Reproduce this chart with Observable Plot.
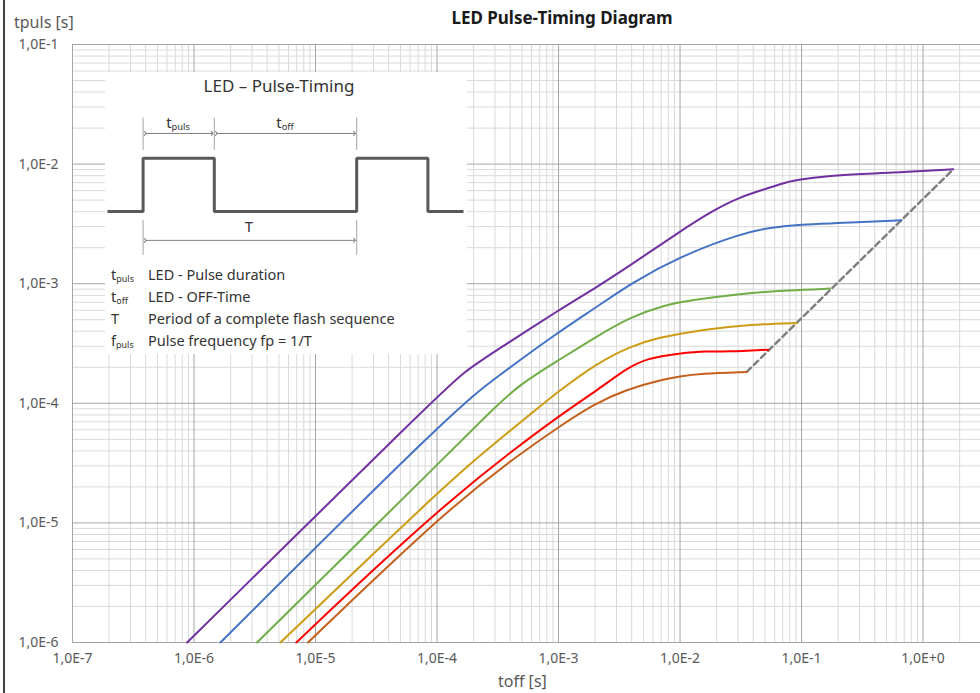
<!DOCTYPE html>
<html><head><meta charset="utf-8">
<script src="https://cdn.jsdelivr.net/npm/d3@7"></script>
<script src="https://cdn.jsdelivr.net/npm/@observablehq/plot@0.6"></script>
<style>
body{margin:0;background:#fff;font-family:"Noto Sans",sans-serif;}
#wrap{position:relative;width:980px;height:693px;overflow:hidden;background:#fff;}
.t{position:absolute;white-space:nowrap;color:#333;line-height:1.1;}
.c{transform:translate(-50%,-50%);}
.l{transform:translateY(-50%);}
sub{font-size:62%;vertical-align:-0.25em;line-height:0;}
</style></head><body><div id="wrap"></div>
<script>
// ---- axis ticks ----
const xTicks = [1e-7, 1e-6, 1e-5, 1e-4, 1e-3, 1e-2, 1e-1, 1e0];
const xTickLabels = ["1,0E-7", "1,0E-6", "1,0E-5", "1,0E-4", "1,0E-3", "1,0E-2", "1,0E-1", "1,0E+0"];
const yTicks = [1e-6, 1e-5, 1e-4, 1e-3, 1e-2, 1e-1];
const yTickLabels = ["1,0E-6", "1,0E-5", "1,0E-4", "1,0E-3", "1,0E-2", "1,0E-1"];

// ---- series (toff [s], tpuls [s]) ----
const seriesNames = ["s1", "s2", "s3", "s4", "s5", "s6"];
const seriesColors = ["#7030a0", "#4472c4", "#70ad47", "#cc9c14", "#ff0000", "#c5601c"];

const s1X = [8.77e-7, 9.31e-5, 1.64e-4, 3.11e-4, 1.0e-3, 2.07e-3, 3.88e-3, 1.0e-2, 1.87e-2, 3.11e-2, 5.16e-2, 7.53e-2, 9.7e-2, 0.207, 0.731, 1.77];
const s1Y = [1.0e-6, 1.06e-4, 1.82e-4, 2.78e-4, 6.0e-4, 9.38e-4, 1.42e-3, 2.74e-3, 4.10e-3, 5.30e-3, 6.23e-3, 7.08e-3, 7.45e-3, 8.15e-3, 8.57e-3, 9.04e-3];

const s2X = [1.65e-6, 1.41e-4, 3.11e-4, 1.0e-3, 2.07e-3, 3.88e-3, 1.0e-2, 3.11e-2, 5.85e-2, 9.7e-2, 0.207, 0.665];
const s2Y = [1.0e-6, 9.04e-5, 1.66e-4, 3.95e-4, 6.39e-4, 1.0e-3, 1.69e-3, 2.62e-3, 2.98e-3, 3.13e-3, 3.21e-3, 3.39e-3];

const s3X = [3.30e-6, 1.29e-4, 2.82e-4, 4.83e-4, 1.0e-3, 2.07e-3, 3.88e-3, 7.30e-3, 1.21e-2, 3.11e-2, 8.04e-2, 0.171];
const s3Y = [1.0e-6, 3.93e-5, 8.75e-5, 1.45e-4, 2.29e-4, 3.64e-4, 5.24e-4, 6.60e-4, 7.26e-4, 8.27e-4, 8.81e-4, 9.10e-4];

const s4X = [5.14e-6, 1.29e-4, 2.49e-4, 6.43e-4, 1.0e-3, 2.07e-3, 3.88e-3, 6.86e-3, 1.21e-2, 2.42e-2, 4.55e-2, 9.12e-2];
const s4Y = [1.0e-6, 2.28e-5, 3.98e-5, 8.75e-5, 1.26e-4, 2.16e-4, 3.0e-4, 3.57e-4, 3.95e-4, 4.37e-4, 4.58e-4, 4.70e-4];

const s5X = [6.95e-6, 3.41e-5, 1.29e-4, 4.0e-4, 1.03e-3, 2.20e-3, 3.65e-3, 5.32e-3, 1.0e-2, 1.66e-2, 2.42e-2, 5.32e-2];
const s5Y = [1.0e-6, 4.61e-6, 1.55e-5, 3.90e-5, 7.96e-5, 1.34e-4, 1.96e-4, 2.38e-4, 2.62e-4, 2.74e-4, 2.69e-4, 2.81e-4];

const s6X = [8.67e-6, 1.29e-4, 5.31e-4, 1.03e-3, 1.94e-3, 3.65e-3, 6.86e-3, 1.0e-2, 1.46e-2, 3.54e-2];
const s6Y = [1.0e-6, 1.38e-5, 4.06e-5, 6.44e-5, 9.82e-5, 1.31e-4, 1.56e-4, 1.68e-4, 1.77e-4, 1.83e-4];

// dashed line through the series end points
const dashX = [3.54e-2, 1.77];
const dashY = [1.83e-4, 9.04e-3];

// ---- inset (pulse diagram, time in units) ----
const pulseT = [-1, 0, 0, 2, 2, 6, 6, 8, 8, 9];
const pulseLevel = [0, 0, 1, 1, 0, 0, 1, 1, 0, 0];
const dimTopTicks = [0, 2, 6];
const dimBottomTicks = [0, 6];
const dimStart = [0, 2, 0];
const dimEnd = [2, 6, 6];
const dimRow = ["top", "top", "bottom"];

// ---- build ----
const allX = [s1X, s2X, s3X, s4X, s5X, s6X];
const allY = [s1Y, s2Y, s3Y, s4Y, s5Y, s6Y];
const lineData = seriesNames.flatMap((s, k) => allX[k].map((x, i) => ({x, y: allY[k][i], s})));
const dashData = dashX.map((x, i) => ({x, y: dashY[i]}));

const xMax = 2.97;
const xMinor = [], yMinor = [];
for (const d of xTicks) for (let m = 2; m <= 9; m++) if (d * m <= xMax) xMinor.push(d * m);
for (const d of yTicks.slice(0, -1)) for (let m = 2; m <= 9; m++) yMinor.push(d * m);

const fmtX = d => xTickLabels[Math.round(Math.log10(d)) + 7];
const fmtY = d => yTickLabels[Math.round(Math.log10(d)) + 6];

const main = Plot.plot({
  width: 980, height: 693,
  marginLeft: 72, marginRight: 0, marginTop: 44, marginBottom: 51,
  style: {fontFamily: "Noto Sans", fontSize: "14px", color: "#595959", background: "transparent"},
  x: {type: "log", domain: [1e-7, xMax], ticks: xTicks, tickFormat: fmtX, tickSize: 0, tickPadding: 11, label: null},
  y: {type: "log", domain: [1e-6, 1e-1], ticks: yTicks, tickFormat: fmtY, tickSize: 0, tickPadding: 14, label: null},
  color: {domain: seriesNames, range: seriesColors},
  marks: [
    Plot.ruleX(xMinor, {stroke: "#d9d9d9", strokeWidth: 1}),
    Plot.ruleY(yMinor, {stroke: "#d9d9d9", strokeWidth: 1}),
    Plot.ruleX(xTicks, {stroke: "#a6a6a6", strokeWidth: 1}),
    Plot.ruleY(yTicks, {stroke: "#a6a6a6", strokeWidth: 1}),
    Plot.line(dashData, {x: "x", y: "y", stroke: "#808080", strokeWidth: 2.5, strokeDasharray: "6,4"}),
    Plot.line(lineData, {x: "x", y: "y", z: "s", stroke: "s", strokeWidth: 2, curve: "basis"})
  ]
});

const inset = Plot.plot({
  width: 362, height: 282,
  marginLeft: 2, marginRight: 4, marginTop: 0, marginBottom: 0,
  style: {background: "#fff"},
  x: {domain: [-1, 9], axis: null},
  y: {domain: [-2.70, 2.62], axis: null},
  marks: [
    Plot.ruleX(dimTopTicks, {y1: 1.15, y2: 1.76, stroke: "#a6a6a6"}),
    Plot.ruleX(dimBottomTicks, {y1: -0.83, y2: -0.17, stroke: "#a6a6a6"}),
    Plot.link(dimStart.map((a, i) => ({a, b: dimEnd[i], y: dimRow[i] === "top" ? 1.47 : -0.547})),
      {x1: d => d.a + 0.06, x2: d => d.b - 0.06, y1: "y", y2: "y", stroke: "#808080", strokeWidth: 1, markerStart: "arrow", markerEnd: "arrow"}),
    Plot.line(pulseT.map((t, i) => ({t, v: pulseLevel[i]})), {x: "t", y: "v", stroke: "#595959", strokeWidth: 3, strokeLinejoin: "miter", strokeLinecap: "butt"})
  ]
});

const wrap = document.getElementById("wrap");
main.style.position = "absolute"; main.style.left = "0"; main.style.top = "0";
wrap.appendChild(main);
inset.style.position = "absolute"; inset.style.left = "105px"; inset.style.top = "72px";
wrap.appendChild(inset);

function addText(html, x, y, cls, css) {
  const d = document.createElement("div");
  d.className = "t " + cls;
  d.innerHTML = html;
  d.style.left = x + "px"; d.style.top = y + "px";
  Object.assign(d.style, css || {});
  wrap.appendChild(d);
}
// frame line
const fr = document.createElement("div");
Object.assign(fr.style, {position: "absolute", left: "3px", top: "0", width: "1.5px", height: "693px", background: "#404040"});
wrap.appendChild(fr);

addText("LED Pulse-Timing Diagram", 562, 18, "c", {fontWeight: "700", fontSize: "17px", color: "#1a1a1a"});
addText("tpuls [s]", 14, 23, "l", {fontSize: "16px", color: "#595959"});
addText("toff [s]", 498, 682, "l", {fontSize: "16px", color: "#595959"});

addText("LED – Pulse-Timing", 279, 86, "c", {fontSize: "17px"});
addText("t<sub>puls</sub>", 178, 122, "c", {fontSize: "15px"});
addText("t<sub>off</sub>", 285, 122, "c", {fontSize: "15px"});
addText("T", 249, 226, "c", {fontSize: "15px"});

const legSym = ["t<sub>puls</sub>", "t<sub>off</sub>", "T", "f<sub>puls</sub>"];
const legText = ["LED - Pulse duration", "LED - OFF-Time", "Period of a complete flash sequence", "Pulse frequency fp = 1/T"];
const legY = [275, 297, 319, 341];
legSym.forEach((s, i) => {
  addText(s, 111, legY[i], "l", {fontSize: "14.5px"});
  addText(legText[i], 148, legY[i], "l", {fontSize: "14.5px"});
});
</script></body></html>
